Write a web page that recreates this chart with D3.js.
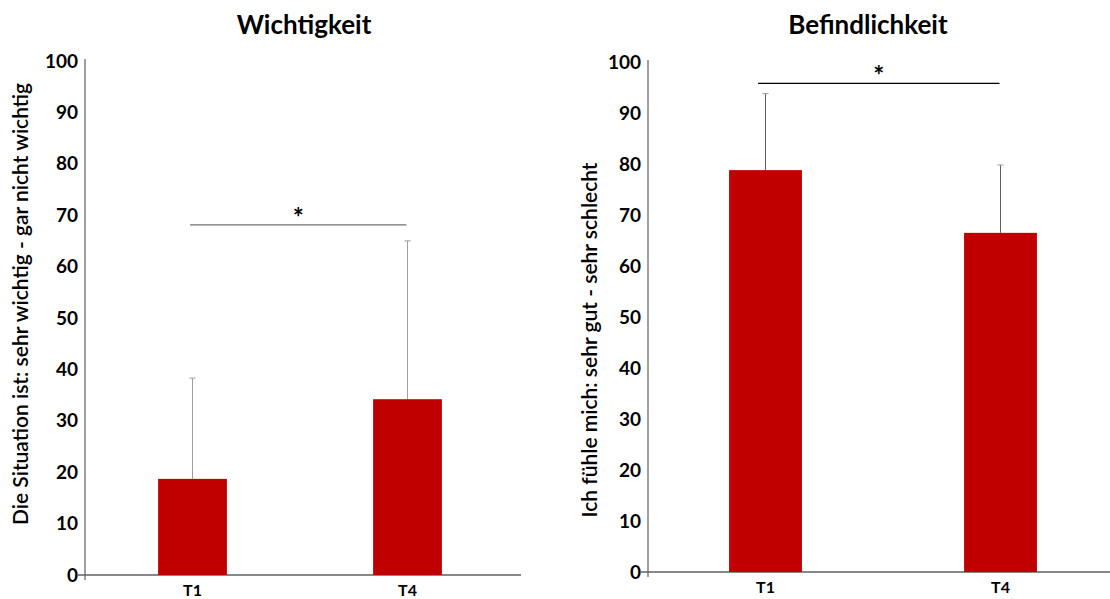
<!doctype html>
<html lang="de">
<head>
<meta charset="UTF-8">
<title>Wichtigkeit / Befindlichkeit</title>
<style>
  body { margin: 0; background: #fff; }
  svg { font-family: Lato, "Open Sans", sans-serif; }
  .title { font-size: 26px; font-weight: bold; }
  .ylab { font-size: 21px; font-weight: 600; }
  .tick-y { font-size: 19px; font-weight: bold; }
  .tick-x { font-size: 16px; font-weight: bold; }
  .bar { fill: #c00000; }
</style>
</head>
<body>
<svg width="1110" height="599"></svg>
<script src="https://cdn.jsdelivr.net/npm/d3@7"></script>
<script>
var categories = ['T1', 'T4'];
var yTicks = [0, 10, 20, 30, 40, 50, 60, 70, 80, 90, 100];

// Wichtigkeit
var wichtigMean = [18.7, 34.2];
var wichtigErr = [19.6, 30.8];
var wichtigSig = 68.1;

// Befindlichkeit
var befindMean = [78.8, 66.5];
var befindErr = [15.0, 13.3];
var befindSig = 95.8;

var svg = d3.select('svg');

function drawPanel(opt) {
  var x = d3.scaleBand()
    .domain(categories)
    .range([opt.left, opt.right])
    .paddingInner(opt.pad)
    .paddingOuter(opt.pad / 2);
  var y = d3.scaleLinear()
    .domain([0, 100])
    .range([opt.bottom, opt.top]);
  var g = svg.append('g');

  // title
  g.append('text')
    .attr('class', 'title')
    .attr('x', opt.titleX)
    .attr('y', 34)
    .attr('text-anchor', 'middle')
    .text(opt.title);

  // y axis label
  g.append('text')
    .attr('class', 'ylab')
    .attr('transform', 'translate(' + opt.ylabX + ',' + opt.ylabY + ') rotate(-90)')
    .attr('text-anchor', 'middle')
    .text(opt.ylabel);

  // y axis
  g.append('line')
    .attr('x1', opt.left).attr('x2', opt.left)
    .attr('y1', y(100) - 2).attr('y2', y(0) + 5)
    .attr('stroke', '#404040').attr('stroke-width', 1);
  g.selectAll('.tick-y')
    .data(yTicks)
    .enter().append('text')
    .attr('class', 'tick-y')
    .attr('x', opt.left - 7)
    .attr('y', function(d) { return y(d); })
    .attr('dy', '0.35em')
    .attr('text-anchor', 'end')
    .text(function(d) { return d; });

  // x axis
  g.append('line')
    .attr('x1', opt.left - 7).attr('x2', opt.axisEnd)
    .attr('y1', y(0)).attr('y2', y(0))
    .attr('stroke', '#606060').attr('stroke-width', 1.3);
  g.selectAll('.tick-x')
    .data(categories)
    .enter().append('text')
    .attr('class', 'tick-x')
    .attr('x', function(d) { return x(d) + x.bandwidth() / 2; })
    .attr('y', y(0) + 21)
    .attr('text-anchor', 'middle')
    .text(function(d) { return d; });

  // error bars (upward only)
  var cx = function(d, i) { return x(categories[i]) + x.bandwidth() / 2; };
  g.selectAll('.err')
    .data(opt.mean)
    .enter().append('line')
    .attr('class', 'err')
    .attr('x1', cx).attr('x2', cx)
    .attr('y1', function(d) { return y(d); })
    .attr('y2', function(d, i) { return y(d + opt.err[i]); })
    .attr('stroke', opt.errColor).attr('stroke-width', 1);
  g.selectAll('.cap')
    .data(opt.mean)
    .enter().append('line')
    .attr('class', 'cap')
    .attr('x1', function(d, i) { return cx(d, i) - 3; })
    .attr('x2', function(d, i) { return cx(d, i) + 3; })
    .attr('y1', function(d, i) { return y(d + opt.err[i]); })
    .attr('y2', function(d, i) { return y(d + opt.err[i]); })
    .attr('stroke', '#999').attr('stroke-width', 1);

  // bars
  g.selectAll('.bar')
    .data(opt.mean)
    .enter().append('rect')
    .attr('class', 'bar')
    .attr('x', function(d, i) { return x(categories[i]); })
    .attr('y', function(d) { return y(d); })
    .attr('width', x.bandwidth())
    .attr('height', function(d) { return y(0) - y(d); });

  // significance bracket
  var sx1 = x('T1') + opt.sigInset;
  var sx2 = x('T4') + x.bandwidth() / 2 - 1;
  g.append('line')
    .attr('x1', sx1).attr('x2', sx2)
    .attr('y1', y(opt.sig)).attr('y2', y(opt.sig))
    .attr('stroke', opt.sigColor).attr('stroke-width', 1.2);
  g.append('text')
    .attr('x', (sx1 + sx2) / 2)
    .attr('y', y(opt.sig) + 2)
    .attr('text-anchor', 'middle')
    .attr('font-size', '26px')
    .attr('font-weight', 'bold')
    .text('*');
}

drawPanel({
  title: 'Wichtigkeit', titleX: 304,
  ylabel: 'Die Situation ist: sehr wichtig - gar nicht wichtig', ylabX: 28, ylabY: 304,
  left: 85, right: 515, axisEnd: 521, top: 61, bottom: 575, pad: 0.68,
  mean: wichtigMean, err: wichtigErr, errColor: '#a0a0a0',
  sig: wichtigSig, sigColor: '#707070', sigInset: 32
});

drawPanel({
  title: 'Befindlichkeit', titleX: 868,
  ylabel: 'Ich fühle mich: sehr gut - sehr schlecht', ylabX: 597, ylabY: 340,
  left: 648, right: 1118, axisEnd: 1118, top: 62, bottom: 572, pad: 0.69,
  mean: befindMean, err: befindErr, errColor: '#606060',
  sig: befindSig, sigColor: '#000', sigInset: 29
});
</script>
</body>
</html>
